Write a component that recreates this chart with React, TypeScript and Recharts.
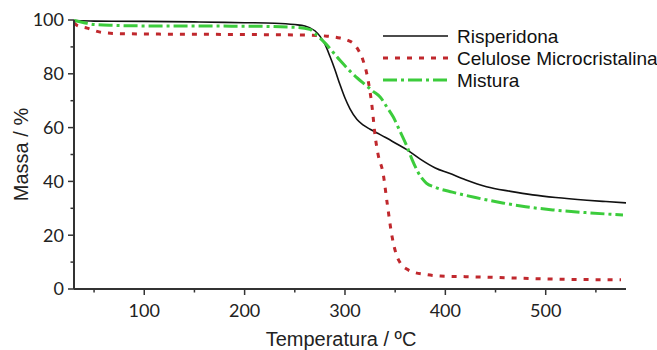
import React from 'react';
import { LineChart, Line, XAxis, YAxis, Legend } from 'recharts';

const seriesNames = ['Risperidona', 'Celulose Microcristalina', 'Mistura'];

const risperidonaTemp = [30, 50, 100, 150, 200, 230, 250, 260, 270, 275, 280, 285, 290, 295, 300, 305, 312, 318, 325, 332, 340, 350, 362, 375, 390, 404, 420, 441, 465, 487, 510, 541, 560, 580];
const risperidonaMassa = [99.8, 99.6, 99.5, 99.3, 99.0, 98.8, 98.3, 97.8, 96.0, 94.0, 91.0, 86.5, 81.5, 76.0, 71.0, 67.0, 63.0, 61.0, 59.4, 58.0, 56.4, 54.3, 51.7, 48.3, 45.0, 43.0, 40.6, 38.0, 36.3, 35.0, 34.0, 33.0, 32.5, 32.0];

const celuloseTemp = [30, 33, 43, 56, 70, 100, 200, 260, 282, 295, 303, 308, 313, 318, 323, 327, 330, 333, 338, 342, 347, 351, 355, 362, 368, 380, 395, 420, 441, 507, 540, 575];
const celuloseMassa = [99.0, 98.0, 97.0, 95.5, 95.0, 94.8, 94.6, 94.4, 94.0, 93.3, 92.4, 91.4, 89.0, 85.0, 77.7, 67.7, 57.0, 50.0, 43.0, 32.0, 19.3, 13.0, 9.7, 7.3, 6.3, 5.4, 4.8, 4.6, 4.4, 3.7, 3.5, 3.4];

const misturaTemp = [30, 40, 50, 70, 100, 200, 250, 265, 270, 280, 295, 305, 318, 328, 335, 342, 348, 355, 362, 367, 372, 377, 381, 390, 407, 430, 457, 480, 507, 540, 577];
const misturaMassa = [99.8, 99.0, 98.3, 98.0, 97.8, 97.7, 97.3, 96.5, 95.0, 91.5, 85.0, 81.0, 76.6, 73.5, 71.4, 67.5, 64.0, 58.5, 52.8, 48.0, 44.0, 41.0, 39.4, 37.8, 36.0, 34.0, 32.0, 30.6, 29.4, 28.4, 27.5];

const xTicks = [50, 100, 150, 200, 250, 300, 350, 400, 450, 500, 550];
const xLabelTicks = [100, 200, 300, 400, 500];
const yTicks = [0, 10, 20, 30, 40, 50, 60, 70, 80, 90, 100];
const yLabelTicks = [0, 20, 40, 60, 80, 100];

const xTitle = 'Temperatura / ºC';
const yTitle = 'Massa / %';

const toPoints = (t: number[], m: number[]) => t.map((x, i) => ({ x, y: m[i] }));

const styles = [
  { stroke: '#111111', strokeWidth: 1.6, dash: undefined as string | undefined },
  { stroke: '#c0282d', strokeWidth: 3, dash: '5 7' },
  { stroke: '#3ccc3c', strokeWidth: 3, dash: '14 4 3 4' },
];

const series = [
  toPoints(risperidonaTemp, risperidonaMassa),
  toPoints(celuloseTemp, celuloseMassa),
  toPoints(misturaTemp, misturaMassa),
];

const AXIS_COLOR = '#333333';
const TICK_FONT = 'Lato, "Open Sans", sans-serif';
const TITLE_FONT = '"Liberation Sans", Arial, sans-serif';

const XTick = (props: any) => {
  const { x, y, payload } = props;
  const major = xLabelTicks.includes(payload.value);
  return (
    <g>
      <line x1={x} x2={x} y1={y} y2={y + (major ? 6 : 3.5)} stroke={AXIS_COLOR} strokeWidth={1.5} />
      {major && (
        <text x={x} y={y + 28} textAnchor="middle" fontFamily={TICK_FONT} fontSize={18} fill="#222">
          {payload.value}
        </text>
      )}
    </g>
  );
};

const YTick = (props: any) => {
  const { x, y, payload } = props;
  const major = yLabelTicks.includes(payload.value);
  return (
    <g>
      <line x1={x} x2={x - (major ? 6 : 3.5)} y1={y} y2={y} stroke={AXIS_COLOR} strokeWidth={1.5} />
      {major && (
        <text x={x - 10} y={y} dy="0.36em" textAnchor="end" fontFamily={TICK_FONT} fontSize={18} fill="#222">
          {payload.value}
        </text>
      )}
    </g>
  );
};

const renderLegend = () => (
  <svg width={280} height={70}>
    {seriesNames.map((name, i) => {
      const cy = 11 + i * 22;
      return (
        <g key={name}>
          <line x1={3} x2={68} y1={cy} y2={cy} stroke={styles[i].stroke} strokeWidth={styles[i].strokeWidth} strokeDasharray={styles[i].dash} />
          <text x={77} y={cy} dy="0.36em" fontFamily={TITLE_FONT} fontSize={19} fill="#111">
            {name}
          </text>
        </g>
      );
    })}
  </svg>
);

export default function App() {
  return (
    <div style={{ position: 'absolute', left: 0, top: 0, width: 657, height: 350, background: '#fff' }}>
      <LineChart width={657} height={350} margin={{ top: 20, right: 31, bottom: 0, left: 0 }}>
        <XAxis
          type="number"
          dataKey="x"
          domain={[30, 580]}
          ticks={xTicks}
          allowDataOverflow
          height={61}
          tickLine={false}
          tickSize={0}
          tickMargin={0}
          tick={<XTick />}
          interval={0}
          axisLine={{ stroke: AXIS_COLOR, strokeWidth: 2 }}
          label={{
            value: xTitle,
            position: 'insideBottom',
            offset: 4,
            dx: -9,
            style: { fontFamily: TITLE_FONT, fontSize: 20, fill: '#222' },
          }}
        />
        <YAxis
          type="number"
          dataKey="y"
          domain={[0, 100]}
          ticks={yTicks}
          width={74}
          tickLine={false}
          tickSize={0}
          tickMargin={0}
          tick={<YTick />}
          interval={0}
          axisLine={{ stroke: AXIS_COLOR, strokeWidth: 2 }}
          label={{
            value: yTitle,
            angle: -90,
            position: 'insideLeft',
            offset: 21,
            style: { fontFamily: TITLE_FONT, fontSize: 20, fill: '#222', textAnchor: 'middle' },
          }}
        />
        <Legend
          layout="horizontal"
          verticalAlign="middle"
          align="center"
          content={renderLegend}
          wrapperStyle={{ left: 380, top: 25, width: 280, height: 70 }}
        />
        {series.map((data, i) => (
          <Line
            key={seriesNames[i]}
            name={seriesNames[i]}
            data={data}
            dataKey="y"
            type="monotone"
            stroke={styles[i].stroke}
            strokeWidth={styles[i].strokeWidth}
            strokeDasharray={styles[i].dash}
            dot={false}
            activeDot={false}
            isAnimationActive={false}
          />
        ))}
      </LineChart>
    </div>
  );
}
